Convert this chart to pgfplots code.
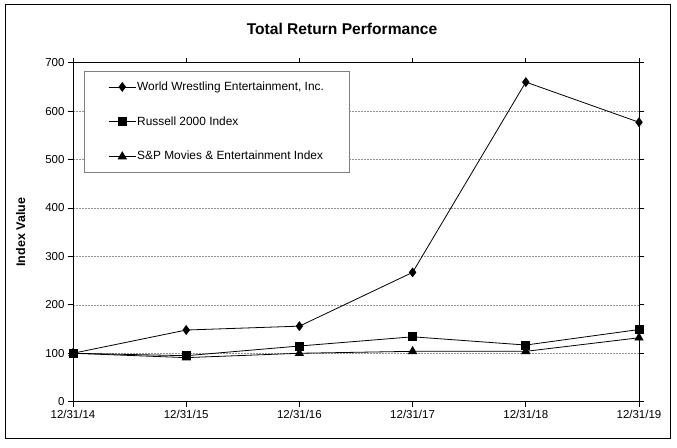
\documentclass[border=0pt]{standalone}
\usepackage{pgfplots}
\pgfplotsset{compat=1.18}
\usepackage{fontspec}
\setmainfont{Liberation Sans}
\begin{document}
\begin{tikzpicture}[x=1pt,y=1pt]
\useasboundingbox (0,0) rectangle (677,447);
\draw[line width=1pt] (5.5,9) rectangle (670.5,442);
\node[font=\bfseries\fontsize{15.6}{18}\selectfont] at (342,418) {Total Return Performance};
\begin{axis}[
  at={(73pt,45.3pt)}, anchor=south west,
  scale only axis, width=566pt, height=339pt,
  xmin=0, xmax=5, ymin=0, ymax=700,
  xtick={0,1,2,3,4,5},
  xticklabels={12/31/14,12/31/15,12/31/16,12/31/17,12/31/18,12/31/19},
  ytick={0,100,...,700},
  tick align=outside, major tick length=5pt,
  tick style={black, line width=0.8pt},
  axis line style={line width=0.9pt},
  ymajorgrids, grid style={gray!85, dash pattern=on 2pt off 1pt, line width=0.5pt},
  tick label style={font=\fontsize{11.5}{13}\selectfont},
  /pgf/number format/assume math mode=true,
  ylabel={\bfseries Index Value},
  ylabel style={font=\fontsize{12.5}{14}\selectfont, at={(axis description cs:-0.0924,0.5)}, anchor=center},
  legend style={at={(axis description cs:0.0194,0.976)}, anchor=north west, draw=gray, line width=0.8pt,
    font=\fontsize{11.9}{14}\selectfont, row sep=21.3pt, inner xsep=24pt, inner ysep=9pt,
    nodes={inner sep=1pt, text height=9pt, text depth=2.5pt}},
  legend cell align=left,
  every axis plot/.append style={black, line width=0.8pt},
  legend image code/.code={\draw[mark repeat=2,mark phase=2] plot coordinates {(0pt,0pt) (13.5pt,0pt) (27pt,0pt)};},
]
\addplot[mark=diamond*, mark size=4.3pt] coordinates {(0,100) (1,148) (2,156) (3,267) (4,660) (5,577)};
\addlegendentry{World Wrestling Entertainment, Inc.}
\addplot[mark=square*, mark size=4pt] coordinates {(0,100) (1,95) (2,115) (3,134) (4,117) (5,149)};
\addlegendentry{Russell 2000 Index}
\addplot[mark=triangle*, mark size=4.6pt] coordinates {(0,100) (1,91) (2,100) (3,104) (4,104) (5,132)};
\addlegendentry{S\&P Movies \& Entertainment Index}
\end{axis}
\end{tikzpicture}
\end{document}
